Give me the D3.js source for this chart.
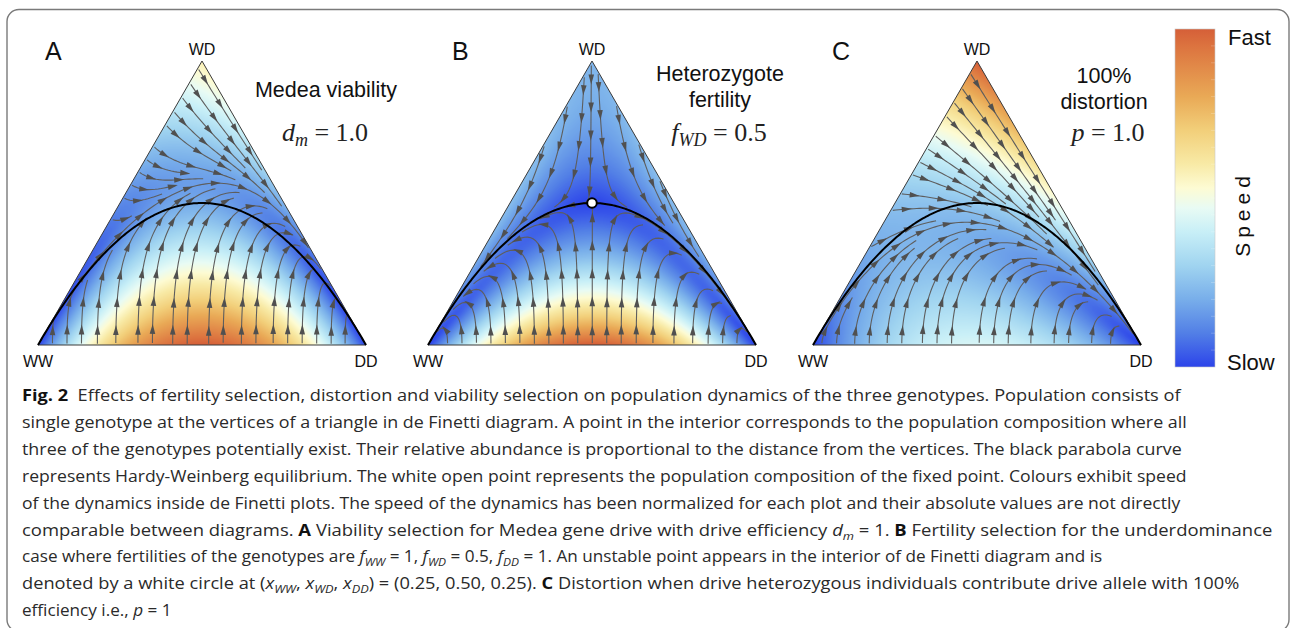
<!DOCTYPE html>
<html><head><meta charset="utf-8">
<script src="https://cdn.jsdelivr.net/npm/d3@7"></script>
<style>body{margin:0;background:#fff}svg{display:block}text{white-space:pre}</style>
</head><body>
<svg id="fig" width="1293" height="628"></svg>
<script>
// ---------------- data ----------------
const panelLetters = ["A", "B", "C"];
const vertexLabels = ["WW", "WD", "DD"];
const panelTitles = [["Medea viability"], ["Heterozygote", "fertility"], ["100%", "distortion"]];
const paramNames = [["d", "m"], ["f", "WD"], ["p", ""]];
const paramValues = [1.0, 0.5, 1.0];          // d_m, f_WD, p
const fertilities = [1, 0.5, 1];              // f_WW, f_WD, f_DD
const fixedPoint = [0.25, 0.50, 0.25];        // (x_WW, x_WD, x_DD)
const speedLabels = ["Slow", "Fast"];
const speedStops  = [0, 0.1, 0.2, 0.3, 0.4, 0.47, 0.53, 0.6, 0.7, 0.8, 0.95, 1];
const speedColors = ["#2c44ea", "#527fe6", "#78aeea", "#a0d4f0", "#c8eff7", "#e8fbf4",
                     "#fdfbd3", "#f8eaa6", "#f2cf7a", "#e9a956", "#dc733f", "#d55f38"];
const captionLines = [
  [["Fig. 2", "b"], ["  Effects of fertility selection, distortion and viability selection on population dynamics of the three genotypes. Population consists of", ""]],
  [["single genotype at the vertices of a triangle in de Finetti diagram. A point in the interior corresponds to the population composition where all", ""]],
  [["three of the genotypes potentially exist. Their relative abundance is proportional to the distance from the vertices. The black parabola curve", ""]],
  [["represents Hardy-Weinberg equilibrium. The white open point represents the population composition of the fixed point. Colours exhibit speed", ""]],
  [["of the dynamics inside de Finetti plots. The speed of the dynamics has been normalized for each plot and their absolute values are not directly", ""]],
  [["comparable between diagrams. ", ""], ["A", "b"], [" Viability selection for Medea gene drive with drive efficiency ", ""], ["d", "i"], ["m", "s"], [" = 1. ", ""], ["B", "b"], [" Fertility selection for the underdominance", ""]],
  [["case where fertilities of the genotypes are ", ""], ["f", "i"], ["WW", "s"], [" = 1, ", ""], ["f", "i"], ["WD", "s"], [" = 0.5, ", ""], ["f", "i"], ["DD", "s"], [" = 1. An unstable point appears in the interior of de Finetti diagram and is", ""]],
  [["denoted by a white circle at (", ""], ["x", "i"], ["WW", "s"], [", ", ""], ["x", "i"], ["WD", "s"], [", ", ""], ["x", "i"], ["DD", "s"], [") = (0.25, 0.50, 0.25). ", ""], ["C", "b"], [" Distortion when drive heterozygous individuals contribute drive allele with 100%", ""]],
  [["efficiency i.e., ", ""], ["p", "i"], [" = 1", ""]]
];
const captionRight = [1183, 1187, 1183, 1187, 1182, 1273, 1088, 1240, 152];

// ---------------- models (dx/dt of genotype frequencies) ----------------
const models = [
  function medea(x1, x2, x3) {
    const dm = paramValues[0], p = x1 + x2 / 2, q = 1 - p;
    const o1 = x1 * p + 0.5 * x2 * p * (1 - dm);
    const o2 = x1 * q + 0.5 * x2 + x3 * p;
    const o3 = 0.5 * x2 * q + x3 * q;
    const s = o1 + o2 + o3;
    return [o1 - x1 * s, o2 - x2 * s, o3 - x3 * s];
  },
  function fertility(x1, x2, x3) {
    const [f1, f2, f3] = fertilities;
    const W = f1 * x1 + 0.5 * f2 * x2, D = 0.5 * f2 * x2 + f3 * x3, s = (W + D) * (W + D);
    return [W * W - x1 * s, 2 * W * D - x2 * s, D * D - x3 * s];
  },
  function distortion(x1, x2, x3) {
    const pp = paramValues[2];
    const W = x1 + x2 * (1 - pp) / 2, D = x3 + x2 * (1 + pp) / 2, s = (W + D) * (W + D);
    return [W * W - x1 * s, 2 * W * D - x2 * s, D * D - x3 * s];
  }
];
const colourGamma = [1.0, 1.1, 1.0];

// ---------------- layout ----------------
const svg = d3.select("#fig");
const panelX = [38, 428, 813];
const baseY = 345, triW = 328, triH = 284;
const xs = panelX.map(ox => d3.scaleLinear().domain([0, 1]).range([ox, ox + triW]));
const ys = d3.scaleLinear().domain([0, 1]).range([baseY, baseY - triH]);
const colorScale = d3.scaleLinear().domain(speedStops).range(speedColors).interpolate(d3.interpolateRgb).clamp(true);
const LUT = d3.range(512).map(i => d3.rgb(colorScale(i / 511)));

svg.append("rect").attr("x", 7).attr("y", 9.5).attr("width", 1282).attr("height", 622)
  .attr("rx", 12).attr("fill", "none").attr("stroke", "#7a7a7a").attr("stroke-width", 1.4);

const defs = svg.append("defs");

function bary(k, X, Y) {
  const u = xs[k].invert(X), v = ys.invert(Y);
  const x2 = v, x3 = u - v / 2, x1 = 1 - x2 - x3;
  return [x1, x2, x3];
}
function toXY(k, b) { return [xs[k](b[2] + b[1] / 2), ys(b[1])]; }
function vel(k, X, Y) {
  const b = bary(k, X, Y);
  const d = models[k](b[0], b[1], b[2]);
  return [(d[2] + d[1] / 2) * triW, -d[1] * triH];
}
function inside(k, X, Y, m) {
  const b = bary(k, X, Y);
  return b[0] >= m && b[1] >= m && b[2] >= m;
}

function computeStreams(k, maxSpeed) {
  const dsep = 14.5, dtest = 5.5, step = 1, maxSteps = 2000, minLen = 18;
  const minSpeed = maxSpeed * 0.004, margin = 1.2 / triH;
  const cs = dsep, grid = new Map();
  const key = (i, j) => i * 100000 + j;
  function addPt(x, y) {
    const kk = key(Math.floor(x / cs), Math.floor(y / cs));
    if (!grid.has(kk)) grid.set(kk, []);
    grid.get(kk).push([x, y]);
  }
  function near(x, y, d) {
    const i = Math.floor(x / cs), j = Math.floor(y / cs), d2 = d * d;
    for (let a = i - 1; a <= i + 1; a++) for (let c = j - 1; c <= j + 1; c++) {
      const arr = grid.get(key(a, c)); if (!arr) continue;
      for (const p of arr) { const dx = p[0] - x, dy = p[1] - y; if (dx * dx + dy * dy < d2) return true; }
    }
    return false;
  }
  function dir(x, y) {
    const v = vel(k, x, y), m = Math.hypot(v[0], v[1]);
    if (m < 1e-12) return null;
    return [v[0] / m, v[1] / m, m];
  }
  function trace(x, y, sg) {
    const pts = [];
    for (let n = 0; n < maxSteps; n++) {
      const d1 = dir(x, y); if (!d1 || d1[2] < minSpeed) break;
      const d2 = dir(x + sg * d1[0] * step / 2, y + sg * d1[1] * step / 2); if (!d2) break;
      if (d1[0] * d2[0] + d1[1] * d2[1] < 0) break;
      const nx = x + sg * d2[0] * step, ny = y + sg * d2[1] * step;
      if (!inside(k, nx, ny, margin)) break;
      if (near(nx, ny, dtest)) break;
      pts.push([nx, ny]); x = nx; y = ny;
    }
    return pts;
  }
  const lines = [], queue = [];
  function trySeed(x, y) {
    if (!inside(k, x, y, margin * 2)) return;
    if (near(x, y, dsep)) return;
    const d = dir(x, y); if (!d || d[2] < minSpeed) return;
    const f = trace(x, y, 1), b = trace(x, y, -1);
    const line = b.reverse().concat([[x, y]], f);
    if (line.length * step < minLen) return;
    line.forEach(p => addPt(p[0], p[1]));
    lines.push(line);
    for (let i = 0; i < line.length; i += 4) {
      const p = line[i], q = line[Math.min(i + 1, line.length - 1)], pr = line[Math.max(i - 1, 0)];
      let tx = q[0] - pr[0], ty = q[1] - pr[1]; const m = Math.hypot(tx, ty) || 1; tx /= m; ty /= m;
      queue.push([p[0] - ty * dsep, p[1] + tx * dsep], [p[0] + ty * dsep, p[1] - tx * dsep]);
    }
  }
  const ox = panelX[k];
  trySeed(ox + triW / 2, baseY - 2);
  while (queue.length) { const s = queue.shift(); trySeed(s[0], s[1]); }
  for (let y = baseY - 2; y > baseY - triH; y -= dsep / 3)
    for (let x = ox; x < ox + triW; x += dsep / 3) {
      trySeed(x, y);
      while (queue.length) { const s = queue.shift(); trySeed(s[0], s[1]); }
    }
  return lines;
}

const lineGen = d3.line().curve(d3.curveLinear);
const sansFont = "Liberation Sans, Arial, Helvetica, sans-serif";

panelX.forEach((ox, k) => {
  const g = svg.append("g");
  const vWW = toXY(k, [1, 0, 0]), vWD = toXY(k, [0, 1, 0]), vDD = toXY(k, [0, 0, 1]);
  const triPath = "M" + vWW + "L" + vDD + "L" + vWD + "Z";
  defs.append("clipPath").attr("id", "clip" + k).append("path").attr("d", triPath);

  // heat map of speed
  const W = triW, H = triH;
  const cv = document.createElement("canvas"); cv.width = W; cv.height = H;
  const ctx = cv.getContext("2d"); const img = ctx.createImageData(W, H);
  const sp = new Float32Array(W * H); let mx = 0;
  for (let j = 0; j < H; j++) for (let i = 0; i < W; i++) {
    const X = ox + i + 0.5, Y = baseY - H + j + 0.5;
    const v = vel(k, X, Y), s = Math.hypot(v[0], v[1]);
    sp[j * W + i] = s;
    if (inside(k, X, Y, 0) && s > mx) mx = s;
  }
  for (let n = 0; n < W * H; n++) {
    const t = Math.pow(Math.min(1, sp[n] / mx), colourGamma[k]);
    const c = LUT[Math.max(0, Math.min(511, Math.round(t * 511)))];
    img.data[4 * n] = c.r; img.data[4 * n + 1] = c.g; img.data[4 * n + 2] = c.b; img.data[4 * n + 3] = 255;
  }
  ctx.putImageData(img, 0, 0);
  g.append("image").attr("x", ox).attr("y", baseY - H).attr("width", W).attr("height", H)
    .attr("preserveAspectRatio", "none").attr("href", cv.toDataURL()).attr("clip-path", `url(#clip${k})`);

  // streamlines
  const lines = computeStreams(k, mx);
  const sg = g.append("g").attr("clip-path", `url(#clip${k})`);
  sg.selectAll("path.sl").data(lines).join("path").attr("class", "sl")
    .attr("d", l => lineGen(l.filter((p, i) => i % 3 === 0 || i === l.length - 1)))
    .attr("fill", "none").attr("stroke", "#5e5e5e").attr("stroke-width", 1.1);
  const arrows = [];
  lines.forEach(l => {
    let acc = 0, next = 13;
    for (let i = 1; i < l.length; i++) {
      acc += Math.hypot(l[i][0] - l[i - 1][0], l[i][1] - l[i - 1][1]);
      if (acc >= next && i < l.length - 3) {
        const a = l[Math.max(0, i - 3)], b = l[Math.min(l.length - 1, i + 3)];
        let tx = b[0] - a[0], ty = b[1] - a[1]; const m = Math.hypot(tx, ty) || 1; tx /= m; ty /= m;
        arrows.push({ x: l[i][0], y: l[i][1], tx, ty });
        next += 28;
      }
    }
  });
  sg.selectAll("path.ar").data(arrows).join("path").attr("class", "ar")
    .attr("d", a => {
      const L1 = 5, L2 = 5, hw = 2.8;
      const tip = [a.x + a.tx * L1, a.y + a.ty * L1];
      const bx = a.x - a.tx * L2, by = a.y - a.ty * L2;
      return `M${tip}L${bx - a.ty * hw},${by + a.tx * hw}L${bx + a.ty * hw},${by - a.tx * hw}Z`;
    })
    .attr("fill", "#505050");

  // triangle outline
  g.append("path").attr("d", triPath).attr("fill", "none").attr("stroke", "#3a3a3a").attr("stroke-width", 1);

  // Hardy-Weinberg parabola
  const hw = d3.range(0, 1.0001, 0.005).map(p => toXY(k, [p * p, 2 * p * (1 - p), (1 - p) * (1 - p)]));
  g.append("path").attr("d", lineGen(hw)).attr("fill", "none").attr("stroke", "#000").attr("stroke-width", 2);

  if (k === 1) {
    const fp = toXY(k, fixedPoint);
    g.append("circle").attr("cx", fp[0]).attr("cy", fp[1]).attr("r", 4.8)
      .attr("fill", "#fff").attr("stroke", "#000").attr("stroke-width", 2);
  }

  // vertex labels
  [[vWW[0], 367, vertexLabels[0]], [vWD[0], 55, vertexLabels[1]], [vDD[0], 367, vertexLabels[2]]].forEach(d => {
    g.append("text").attr("x", d[0]).attr("y", d[1]).text(d[2])
      .attr("font-family", sansFont).attr("font-size", 16).attr("fill", "#111").attr("text-anchor", "middle");
  });

  // panel letter
  g.append("text").attr("x", [45, 452, 832][k]).attr("y", 60).text(panelLetters[k])
    .attr("font-family", sansFont).attr("font-size", 25).attr("fill", "#111");

  // titles
  const tcx = [326, 720, 1104][k];
  const tby = [[97], [81, 107], [83, 109]][k];
  panelTitles[k].forEach((s, i) => {
    g.append("text").attr("x", tcx).attr("y", tby[i]).attr("text-anchor", "middle").text(s)
      .attr("font-family", sansFont).attr("font-size", 21.5).attr("fill", "#111");
  });

  // parameter
  const pt = g.append("text").attr("x", [325, 719, 1108][k]).attr("y", 141).attr("text-anchor", "middle")
    .attr("font-family", "Liberation Serif, Times New Roman, serif").attr("font-size", 26).attr("fill", "#222");
  pt.append("tspan").attr("font-style", "italic").text(paramNames[k][0]);
  if (paramNames[k][1]) {
    pt.append("tspan").attr("font-style", "italic").attr("font-size", 18).attr("dy", 5).text(paramNames[k][1]);
    pt.append("tspan").attr("dy", -5).text(" = " + paramValues[k].toFixed(1));
  } else pt.append("tspan").text(" = " + paramValues[k].toFixed(1));
});

// ---------------- colour bar ----------------
const cbY = d3.scaleLinear().domain([0, 1]).range([367, 29]);
const grad = defs.append("linearGradient").attr("id", "cbgrad").attr("x1", 0).attr("y1", 1).attr("x2", 0).attr("y2", 0);
speedStops.forEach((s, i) => grad.append("stop").attr("offset", s).attr("stop-color", speedColors[i]));
svg.append("rect").attr("x", 1175).attr("y", cbY(1)).attr("width", 40).attr("height", cbY(0) - cbY(1))
  .attr("fill", "url(#cbgrad)").attr("stroke", "#c8c8c8").attr("stroke-width", 0.6);
svg.selectAll("line.cbt").data(d3.range(1, 20)).join("line").attr("class", "cbt")
  .attr("x1", 1211).attr("x2", 1215).attr("y1", d => cbY(d / 20)).attr("y2", d => cbY(d / 20))
  .attr("stroke", "#fff").attr("stroke-opacity", 0.35).attr("stroke-width", 0.6);
svg.append("text").attr("x", 1228).attr("y", 45).text(speedLabels[1])
  .attr("font-family", sansFont).attr("font-size", 22).attr("fill", "#111");
svg.append("text").attr("x", 1227).attr("y", 370).text(speedLabels[0])
  .attr("font-family", sansFont).attr("font-size", 22).attr("fill", "#111");
svg.append("text").attr("transform", "translate(1250,214) rotate(-90)").attr("text-anchor", "middle")
  .attr("letter-spacing", 5).text("Speed")
  .attr("font-family", sansFont).attr("font-size", 21).attr("fill", "#111");

// ---------------- caption ----------------
const capNodes = [];
captionLines.forEach((segs, i) => {
  const y = 401 + i * 26.9;
  const t = svg.append("text").attr("transform", `translate(22,${y})`)
    .attr("font-family", "Open Sans, Noto Sans, sans-serif").attr("font-size", 16.5).attr("fill", "#2a2a2a");
  segs.forEach(([s, st]) => {
    const ts = t.append("tspan").text(s);
    if (st === "b") ts.attr("font-weight", "bold").attr("fill", "#111");
    if (st === "i") ts.attr("font-style", "italic");
    if (st === "s") { ts.attr("font-style", "italic").attr("font-size", 11.5).attr("dy", 4); }
  });
  t.selectAll("tspan").each(function (d, j, nodes) {
    const prev = j > 0 ? nodes[j - 1] : null;
    if (prev && prev.getAttribute("dy") === "4" && this.getAttribute("dy") !== "4") this.setAttribute("dy", -4);
  });
  const w0 = t.node().getBBox().width;
  capNodes.push({ t, y, sx: (captionRight[i] - 22) / w0 });
});
const refScale = d3.median(capNodes.slice(0, 5), d => d.sx);
capNodes.forEach(d => {
  const sx = Math.max(refScale * 0.96, Math.min(refScale * 1.04, d.sx));
  d.t.attr("transform", `translate(22,${d.y}) scale(${sx},1)`);
});
</script>
</body></html>
